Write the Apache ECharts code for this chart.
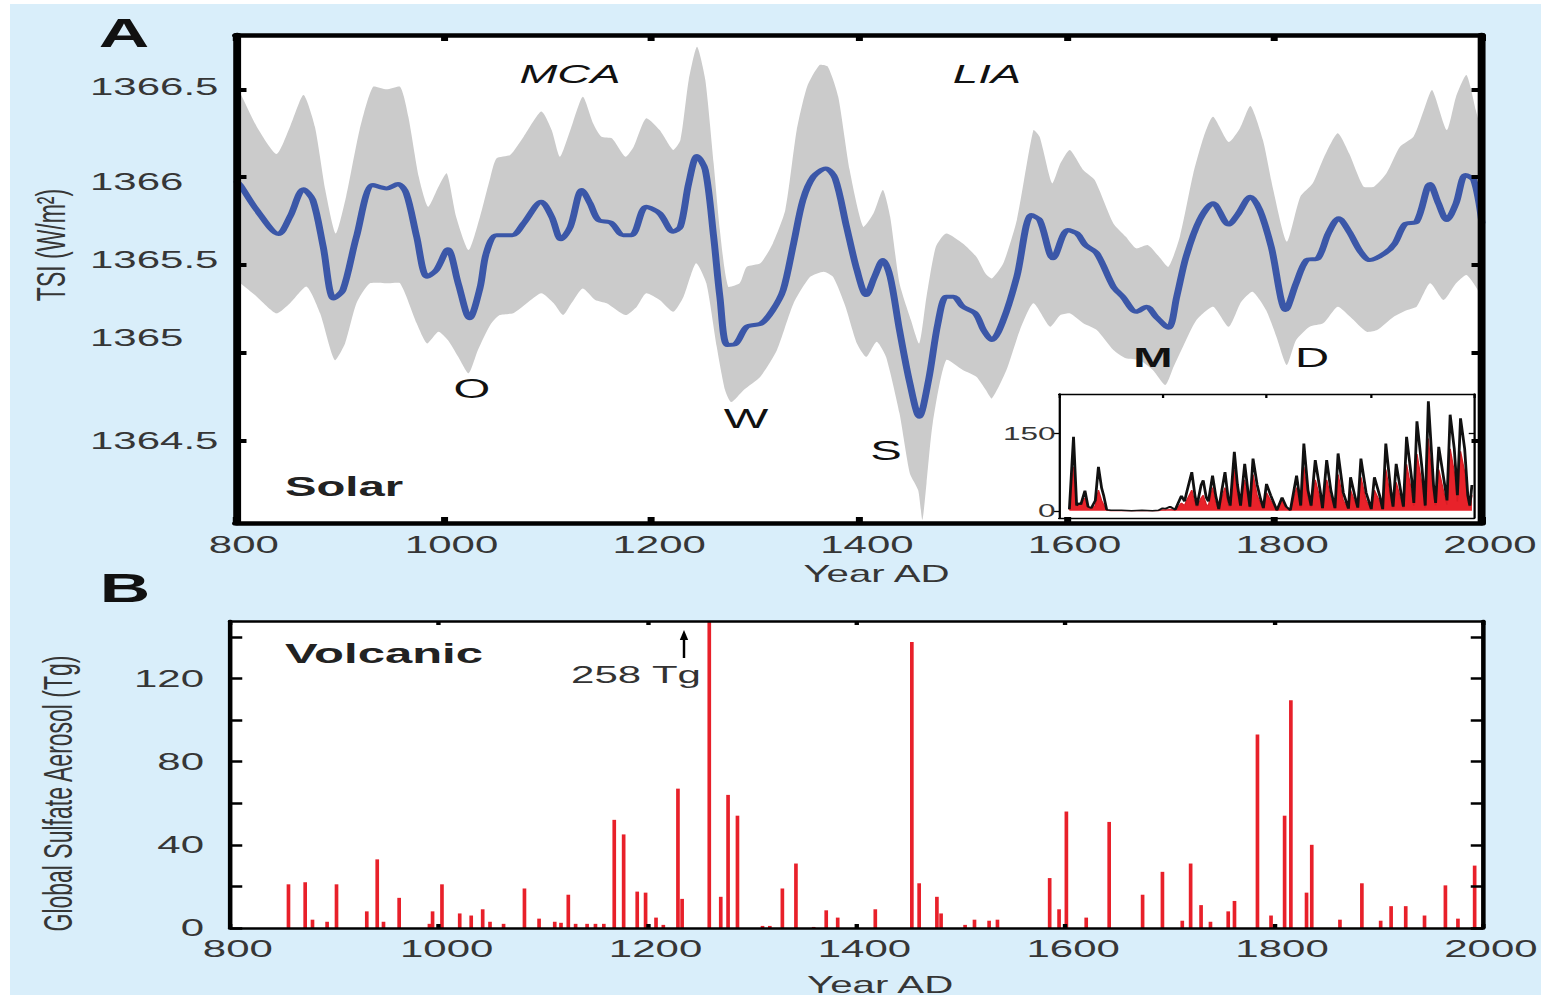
<!DOCTYPE html>
<html><head><meta charset="utf-8">
<script src="https://cdn.jsdelivr.net/npm/echarts@6/dist/echarts.min.js"></script>
<style>
html,body{margin:0;padding:0;background:#fff;overflow:hidden}
#wrap{position:relative;width:1549px;height:997px;overflow:hidden}
#chart{position:absolute;left:0;top:0;width:885px;height:997px;transform:scaleX(1.750282);transform-origin:0 0}
</style></head>
<body><div id="wrap"><div id="chart"></div></div>
<script>
// ---------- DATA ----------
const tsiYears = [800,804,820,841,852,865,874,884,894,903,916,932,945,956,964,974,984,993,1004,1014,1025,1035,1041,1051,1066,1077,1094,1104,1113,1122,1133,1141,1149,1161,1173,1181,1195,1208,1221,1228,1236,1244,1252,1260,1266,1273,1281,1292,1306,1317,1327,1337,1346,1356,1368,1377,1388,1398,1407,1415,1423,1430,1439,1449,1458,1467,1476,1484,1491,1500,1512,1520,1528,1539,1552,1566,1574,1587,1601,1610,1618,1629,1645,1654,1667,1677,1686,1698,1706,1715,1728,1741,1756,1765,1777,1786,1797,1811,1821,1831,1842,1852,1862,1872,1883,1892,1907,1916,1926,1937,1950,1958,1966,1975,1984,1992,2000];
const tsiMean = [1365.98,1365.955,1365.813,1365.676,1365.775,1365.931,1365.87,1365.604,1365.31,1365.358,1365.661,1365.955,1365.936,1365.961,1365.908,1365.661,1365.433,1365.472,1365.59,1365.396,1365.197,1365.37,1365.567,1365.67,1365.67,1365.737,1365.86,1365.775,1365.646,1365.718,1365.927,1365.851,1365.756,1365.741,1365.67,1365.67,1365.832,1365.794,1365.69,1365.718,1365.965,1366.12,1366.04,1365.661,1365.32,1365.045,1365.05,1365.149,1365.168,1365.244,1365.358,1365.623,1365.87,1366.003,1366.05,1365.993,1365.718,1365.472,1365.329,1365.433,1365.528,1365.433,1365.13,1364.827,1364.637,1364.845,1365.168,1365.32,1365.32,1365.263,1365.225,1365.13,1365.073,1365.187,1365.433,1365.784,1365.756,1365.538,1365.699,1365.68,1365.614,1365.567,1365.376,1365.32,1365.234,1365.263,1365.206,1365.143,1365.32,1365.547,1365.756,1365.851,1365.73,1365.79,1365.889,1365.813,1365.604,1365.244,1365.396,1365.528,1365.538,1365.68,1365.766,1365.69,1365.576,1365.528,1365.57,1365.623,1365.733,1365.746,1365.961,1365.851,1365.756,1365.851,1366.012,1365.984,1365.737];

const upperYears = [800,804,820,839,852,865,876,886,896,906,919,932,945,958,966,976,985,995,1003,1012,1024,1035,1045,1051,1064,1077,1094,1104,1112,1122,1134,1144,1152,1162,1175,1183,1195,1208,1221,1228,1236,1244,1252,1260,1266,1274,1285,1292,1305,1317,1329,1340,1350,1362,1370,1380,1391,1404,1414,1423,1430,1439,1450,1458,1465,1474,1484,1500,1513,1522,1528,1539,1552,1568,1574,1586,1594,1603,1616,1627,1645,1657,1667,1678,1689,1698,1709,1722,1732,1741,1756,1767,1777,1789,1799,1812,1825,1837,1848,1861,1872,1886,1896,1908,1921,1934,1944,1952,1966,1975,1985,1994,2000];
const bandUpper = [1366.50,1366.477,1366.287,1366.132,1366.287,1366.468,1366.287,1365.927,1365.68,1365.889,1366.268,1366.515,1366.5,1366.515,1366.344,1366.003,1365.832,1365.946,1366.022,1365.775,1365.585,1365.775,1366.0,1366.107,1366.126,1366.23,1366.373,1366.268,1366.116,1366.268,1366.458,1366.306,1366.23,1366.221,1366.116,1366.173,1366.335,1366.268,1366.155,1366.211,1366.553,1366.742,1366.553,1366.079,1365.699,1365.377,1365.396,1365.49,1365.51,1365.623,1365.813,1366.268,1366.515,1366.638,1366.629,1366.458,1366.041,1365.718,1365.794,1365.927,1365.775,1365.396,1365.187,1365.054,1365.32,1365.604,1365.68,1365.623,1365.547,1365.45,1365.424,1365.51,1365.756,1366.268,1366.23,1365.965,1366.079,1366.155,1366.041,1365.984,1365.737,1365.661,1365.595,1365.614,1365.547,1365.49,1365.661,1366.022,1366.23,1366.344,1366.2,1366.28,1366.405,1366.211,1365.927,1365.633,1365.889,1365.965,1366.116,1366.25,1366.136,1365.946,1365.946,1366.022,1366.173,1366.23,1366.382,1366.496,1366.268,1366.458,1366.581,1366.382,1366.23];

const lowerYears = [800,804,820,839,852,868,881,895,905,916,929,947,958,974,984,995,1004,1014,1024,1033,1045,1054,1067,1080,1094,1106,1115,1123,1134,1146,1157,1175,1186,1195,1208,1221,1231,1243,1253,1263,1271,1277,1289,1305,1321,1337,1353,1366,1375,1387,1398,1407,1417,1426,1439,1449,1457,1461,1465,1471,1484,1500,1513,1522,1528,1542,1555,1568,1584,1594,1603,1616,1629,1645,1657,1670,1683,1695,1703,1712,1725,1741,1756,1768,1779,1792,1802,1812,1821,1834,1847,1861,1873,1889,1899,1915,1928,1937,1950,1963,1975,1985,1994,2000];
const bandLower = [1365.40,1365.396,1365.32,1365.225,1365.282,1365.377,1365.225,1364.959,1365.054,1365.282,1365.396,1365.396,1365.396,1365.168,1365.054,1365.12,1365.073,1364.978,1364.884,1365.016,1365.16,1365.215,1365.225,1365.282,1365.339,1365.282,1365.215,1365.282,1365.367,1365.301,1365.282,1365.215,1365.263,1365.339,1365.301,1365.234,1365.32,1365.51,1365.396,1365.035,1364.789,1364.72,1364.789,1364.864,1365.016,1365.282,1365.433,1365.462,1365.433,1365.263,1365.054,1364.978,1365.064,1364.978,1364.656,1364.314,1364.219,1364.05,1364.257,1364.599,1364.959,1364.902,1364.864,1364.79,1364.741,1364.902,1365.13,1365.282,1365.149,1365.215,1365.225,1365.168,1365.13,1365.016,1364.969,1364.959,1364.902,1364.817,1364.921,1365.035,1365.187,1365.263,1365.149,1365.29,1365.348,1365.244,1365.092,1364.931,1365.073,1365.149,1365.168,1365.263,1365.206,1365.12,1365.13,1365.206,1365.244,1365.263,1365.396,1365.301,1365.396,1365.443,1365.377,1365.32];

const volcYears = [856,872,879,893,902,931,941,947,962,991,994,1003,1020,1031,1042,1049,1062,1082,1096,1111,1117,1124,1131,1142,1150,1158,1168,1177,1190,1198,1208,1215,1229,1233,1259,1270,1277,1286,1310,1317,1329,1342,1359,1371,1382,1418,1453,1460,1477,1481,1504,1513,1527,1535,1585,1594,1601,1620,1642,1674,1693,1712,1720,1730,1739,1756,1762,1784,1797,1810,1816,1831,1836,1863,1884,1902,1912,1926,1944,1964,1976,1992];
const volcTg = [21,22,4,3,21,8,33,3,14.5,2,8,21,7,6,9,3,2,19,4.5,3,2.5,16,2,2,2,2,52,45,17.5,17,5,1.5,67,14,258,15,64,54,1,1,19,31,0.5,8.5,5,9,137.5,21.5,15,7,1.5,4,3.5,4,24,9,56,5,51,16,27,3.5,31,11,3,8,13,93,6,54,109.5,17,40,4,21.5,3.5,10.5,10.5,6,20.5,4.5,30];

const sunYears = [1610,1614,1617,1619,1621,1625,1628,1631,1635,1638,
  1641,1643,1646,1650,1660,1670,1680,1690,1696,1700,
  1703,1707,1712,1718,1721,1723,1728,1731,1733,1737,
  1739,1742,1744,1748,1751,1754,1757,1760,1763,1765,
  1769,1772,1775,1779,1782,1784,1787,1791,1794,1797,
  1800,1804,1810,1815,1819,1823,1829,1833,1836,1840,
  1843,1847,1852,1854,1858,1862,1866,1869,1874,1879,
  1881,1885,1888,1891,1896,1901,1904,1909,1912,1915,
  1920,1922,1925,1930,1932,1935,1940,1942,1945,1950,
  1953,1956,1961,1963,1966,1971,1974,1977,1981,1984,
  1987,1991,1994,1996,1998];
const sunBlack = [3,143,10,15,12,39,8,5,20,85,
  45,30,2,1,1,0,1,0,1,5,
  4,8,2,29,18,35,75,30,10,50,
  59,25,18,68,30,3,40,75,25,10,
  114,50,10,91,40,8,101,50,25,5,
  52,30,1,26,8,1,68,10,130,40,
  10,98,35,5,98,40,5,111,35,4,
  65,30,6,101,35,3,65,30,3,130,
  35,8,91,30,8,143,60,15,173,80,
  10,212,50,15,124,60,20,186,120,30,
  179,120,30,10,50];
const sunRed = [2,85,8,14,12,25,6,4,10,40,
  20,12,1,0,0,0,0,0,0,2,
  2,3,1,15,10,20,40,15,6,25,
  30,12,10,45,15,2,25,45,12,6,
  80,30,8,60,25,5,70,30,15,3,
  35,20,0,20,5,0,45,6,85,25,
  6,60,20,3,60,25,3,70,20,2,
  40,18,4,65,20,2,40,18,2,80,
  20,5,55,18,5,90,35,10,110,50,
  6,140,30,10,80,35,12,120,75,18,
  115,75,18,6,30];

const tsiTicks = [1364.5,1365,1365.5,1366,1366.5];
const tsiLabels = [1364.5,1365,1365.5,1366,1366.5];
const tgTicks = [0,20,40,60,80,100,120,140];
const tgLabels = [0,40,80,120];
const sunTicks = [0,150];

// ---------- LAYOUT ----------
const S = 1549/885;
const X = v => v / S;
const FONT = '"Liberation Sans", Arial, Helvetica, sans-serif';
const TXT = '#363636';

const pairs = (xs, ys) => xs.map((x,i)=>[x, ys[i]]);

function txt(t, x, y, size, opts){
  opts = opts || {};
  return {type:'text', x: X(x), y: y, z: 50, silent:true,
    style:{text:t, fill: opts.fill || '#111', align:'center', verticalAlign:'middle',
      font: (opts.style||'normal') + ' ' + (opts.weight||'normal') + ' ' + size + 'px ' + FONT}};
}

// vertical nudges of the TSI tick labels (as set in the original figure)
const tsiLabelStyle = {1366.5:'u3', 1366:'d4', 1365.5:'u5', 1365:'u15', 1364.5:'n'};
const richBase = {fontSize:24, color:TXT, fontFamily:FONT};
const plain = v => String(v);

const option = {
  animation:false,
  graphic:{elements:[
    {type:'rect', z:-20, silent:true, shape:{x:X(10), y:4, width:X(1531), height:991}, style:{fill:'#d9eefa'}},
    txt('A',124,33,40,{weight:'bold'}),
    txt('B',125,588,40,{weight:'bold'}),
    txt('MCA',570,74,26,{style:'italic'}),
    txt('LIA',987,74,26,{style:'italic'}),
    txt('O',472,389,27),
    txt('W',746,419,27),
    txt('S',886,451,27),
    txt('M',1153,358,27,{weight:'bold'}),
    txt('D',1312,358,27),
    txt('Solar',344,487,27,{weight:'bold',fill:'#222'}),
    txt('Volcanic',384,653,28,{weight:'bold',fill:'#222'}),
    txt('258 Tg',636,675,24,{fill:'#333'}),
    {type:'line', z:50, silent:true, shape:{x1:X(684), y1:658, x2:X(684), y2:638}, style:{stroke:'#000', lineWidth:1.4}},
    {type:'polygon', z:50, silent:true, shape:{points:[[X(684)-2.4,640],[X(684)+2.4,640],[X(684),630]]}, style:{fill:'#000'}}
  ]},
  grid:[
    {left:X(236), top:35, width:X(1246), height:488, show:true, backgroundColor:'#fff', borderWidth:0},
    {left:X(230), top:621, width:X(1253), height:310, show:true, backgroundColor:'#fff', borderWidth:0},
    {left:X(1059), top:394, width:X(415), height:124, show:true, backgroundColor:'#fff', borderWidth:0, z:3}
  ],
  xAxis:[
    {type:'value', gridIndex:0, position:'bottom', min:800, max:2000, interval:200, z:6,
      axisLine:{show:true, onZero:false, lineStyle:{color:'#000', width:4.5}},
      axisTick:{show:true, inside:true, length:6, lineStyle:{color:'#000', width:4}},
      axisLabel:{fontSize:24, color:TXT, fontFamily:FONT, margin:10, padding:[0,0,0,9], formatter:plain},
      splitLine:{show:false},
      name:'Year AD', nameLocation:'middle', nameGap:39,
      nameTextStyle:{fontSize:23, color:TXT, fontFamily:FONT, padding:[0,0,0,20]}},
    {type:'value', gridIndex:0, position:'top', min:800, max:2000, interval:200, z:6,
      axisLine:{show:true, onZero:false, lineStyle:{color:'#000', width:4.5}},
      axisTick:{show:true, inside:true, length:6, lineStyle:{color:'#000', width:4}},
      axisLabel:{show:false}, splitLine:{show:false}},
    {type:'value', gridIndex:1, position:'bottom', min:800, max:2000, interval:200, z:6,
      axisLine:{show:true, onZero:false, lineStyle:{color:'#000', width:2.6}},
      axisTick:{show:true, inside:true, length:4, lineStyle:{color:'#000', width:2.5}},
      axisLabel:{fontSize:24, color:TXT, fontFamily:FONT, margin:9, padding:[0,0,0,9], formatter:plain},
      splitLine:{show:false},
      name:'Year AD', nameLocation:'middle', nameGap:45,
      nameTextStyle:{fontSize:23, color:TXT, fontFamily:FONT, padding:[0,0,0,27]}},
    {type:'value', gridIndex:1, position:'top', min:800, max:2000, interval:200, z:6,
      axisLine:{show:true, onZero:false, lineStyle:{color:'#000', width:2.6}},
      axisTick:{show:true, inside:true, length:4, lineStyle:{color:'#000', width:2.5}},
      axisLabel:{show:false}, splitLine:{show:false}},
    {type:'value', gridIndex:2, position:'bottom', min:1600, max:2000, interval:100, z:7,
      axisLine:{show:true, onZero:false, lineStyle:{color:'#000', width:1.3}},
      axisTick:{show:false}, axisLabel:{show:false}, splitLine:{show:false}},
    {type:'value', gridIndex:2, position:'top', min:1600, max:2000, interval:100, z:7,
      axisLine:{show:true, onZero:false, lineStyle:{color:'#000', width:1.3}},
      axisTick:{show:true, inside:true, length:4, lineStyle:{color:'#000', width:1.3}},
      axisLabel:{show:false}, splitLine:{show:false}}
  ],
  yAxis:[
    {type:'value', gridIndex:0, position:'left', min:1364.032, max:1366.809, z:6,
      axisLine:{show:true, onZero:false, lineStyle:{color:'#000', width:4.5}},
      axisTick:{show:true, inside:true, length:6, customValues:tsiTicks, lineStyle:{color:'#000', width:4}},
      axisLabel:{customValues:tsiLabels, align:'left', margin:X(146), fontSize:24, color:TXT, fontFamily:FONT,
        formatter: v => '{' + (tsiLabelStyle[v] || 'n') + '|' + String(v) + '}',
        rich:{
          n: Object.assign({}, richBase),
          u3: Object.assign({padding:[0,0,6,0]}, richBase),
          u5: Object.assign({padding:[0,0,10,0]}, richBase),
          u15: Object.assign({padding:[0,0,30,0]}, richBase),
          d4: Object.assign({padding:[8,0,0,0]}, richBase)
        }},
      splitLine:{show:false},
      name:'TSI (W/m²)', nameLocation:'middle', nameRotate:90, nameGap:92,
      nameTextStyle:{fontSize:23, color:TXT, fontFamily:FONT, padding:[0,0,0,68]}},
    {type:'value', gridIndex:0, position:'right', min:1364.032, max:1366.809, z:6,
      axisLine:{show:true, onZero:false, lineStyle:{color:'#000', width:4.5}},
      axisTick:{show:true, inside:true, length:6, customValues:tsiTicks, lineStyle:{color:'#000', width:4}},
      axisLabel:{show:false}, splitLine:{show:false}},
    {type:'value', gridIndex:1, position:'left', min:0, max:147.6, z:6,
      axisLine:{show:true, onZero:false, lineStyle:{color:'#000', width:2.6}},
      axisTick:{show:true, inside:true, length:7, customValues:tgTicks, lineStyle:{color:'#000', width:2.5}},
      axisLabel:{customValues:tgLabels, margin:X(26), fontSize:24, color:TXT, fontFamily:FONT, formatter:plain},
      splitLine:{show:false},
      name:'Global Sulfate Aerosol (Tg)', nameLocation:'middle', nameRotate:90, nameGap:87,
      nameTextStyle:{fontSize:23, color:TXT, fontFamily:FONT, padding:[0,38,0,0]}},
    {type:'value', gridIndex:1, position:'right', min:0, max:147.6, z:6,
      axisLine:{show:true, onZero:false, lineStyle:{color:'#000', width:2.6}},
      axisTick:{show:true, inside:true, length:7, customValues:tgTicks, lineStyle:{color:'#000', width:2.5}},
      axisLabel:{show:false}, splitLine:{show:false}},
    {type:'value', gridIndex:2, position:'left', min:-14, max:226, z:7,
      axisLine:{show:true, onZero:false, lineStyle:{color:'#000', width:1.3}},
      axisTick:{show:true, inside:false, length:3, customValues:sunTicks, lineStyle:{color:'#000', width:1.3}},
      axisLabel:{customValues:sunTicks, margin:2, fontSize:18, color:TXT, fontFamily:FONT, formatter:plain},
      splitLine:{show:false}},
    {type:'value', gridIndex:2, position:'right', min:-14, max:226, z:7,
      axisLine:{show:true, onZero:false, lineStyle:{color:'#000', width:1.3}},
      axisTick:{show:true, inside:true, length:3, customValues:[150], lineStyle:{color:'#000', width:1.3}},
      axisLabel:{show:false}, splitLine:{show:false}}
  ],
  series:[
    {type:'custom', name:'TSI range', xAxisIndex:0, yAxisIndex:0, clip:true, z:1, silent:true,
      data:[[800,1365]],
      renderItem:function(params, api){
        const pts = [];
        for (let i=0;i<upperYears.length;i++) pts.push(api.coord([upperYears[i], bandUpper[i]]));
        for (let i=lowerYears.length-1;i>=0;i--) pts.push(api.coord([lowerYears[i], bandLower[i]]));
        return {type:'polygon', shape:{points:pts, smooth:0.2}, style:{fill:'#cbcbcb', stroke:null}};
      }},
    {type:'line', name:'TSI', xAxisIndex:0, yAxisIndex:0, z:2, showSymbol:false, smooth:0.3,
      data:pairs(tsiYears, tsiMean), lineStyle:{color:'#3b57a8', width:4}},
    {type:'bar', name:'Volcanic', xAxisIndex:2, yAxisIndex:2, z:2, barWidth:2.1, clip:true,
      data:pairs(volcYears, volcTg), itemStyle:{color:'#e8202a'}},
    {type:'line', name:'Sunspots (red)', xAxisIndex:4, yAxisIndex:4, z:8, showSymbol:false,
      data:pairs(sunYears, sunRed), lineStyle:{color:'#d81c24', width:0.8},
      areaStyle:{color:'#e8222a', opacity:1, origin:0}},
    {type:'line', name:'Sunspots (black)', xAxisIndex:4, yAxisIndex:4, z:9, showSymbol:false,
      data:pairs(sunYears, sunBlack), lineStyle:{color:'#111', width:1.6}}
  ]
};
const chart = echarts.init(document.getElementById('chart'), null, {renderer:'svg'});
chart.setOption(option);
</script>
</body></html>
